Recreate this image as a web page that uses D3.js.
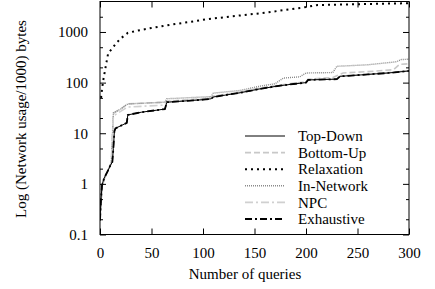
<!DOCTYPE html>
<html><head><meta charset="utf-8">
<script src="https://cdn.jsdelivr.net/npm/d3@7"></script>
<style>
html,body{margin:0;padding:0;background:#fff;}
</style></head>
<body><svg id="c" width="435" height="289"></svg>
<script>
// ---- data ----
const seriesNames = ["Top-Down","Bottom-Up","Relaxation","In-Network","NPC","Exhaustive"];
const xTicks = [0,50,100,150,200,250,300];
const yTicks = [0.1,1,10,100,1000];
const yMinorTicks = [0.2,0.5,2,5,20,50,200,500,2000];

const topDownQ = [0,1,2,4,7,10,12,13,14,15,20,26,27,40,63,65,80,100,108,110,136,155,175,190,200,202,230,233,260,280,300];
const topDownV = [0.19,0.5,0.95,1.3,1.7,2.3,2.7,5,11,12.5,14,16,23,26,30,41,43,46,48,52,63,75,87,95,100,113,117,133,145,155,170];

const bottomUpQ = [0,2,5,8,11,12,13,20,27,63,65,80,100,110,136,155,175,200,202,226,236,260,285,291,300];
const bottomUpV = [0.2,0.9,1.4,1.9,2.6,8,25,30,38,41,43,45,48,54,65,78,90,104,117,126,155,165,180,230,235];

const relaxQ = [1,2,3,5,6.5,8,11,16,21,27,37,50,70,92,102,136,160,184,200,210,240,270,300];
const relaxV = [50,75,107,180,265,385,450,610,770,960,1070,1200,1410,1630,1770,2120,2400,2800,3100,3390,3500,3600,3700];

const inNetQ = [0,2,5,8,11,12,13,20,27,63,65,100,108,110,136,155,170,178,194,200,226,230,260,288,292,300];
const inNetV = [0.2,0.9,1.4,1.9,2.6,8,25,30,38,41,48,52,53,62,70,85,95,123,130,155,158,210,225,258,285,290];

const npcQ = [0,2,5,8,11,12,13,20,27,40,63,65,100,110,136,155,175,200,202,230,233,260,280,300];
const npcV = [0.2,0.9,1.4,1.9,2.6,8,22,27,33,34,36,42,47,53,64,76,88,102,115,119,135,147,158,172];

const exhQ = [0,1,2,4,7,10,12,13,14,15,20,26,27,40,63,65,80,100,108,110,136,155,175,190,200,202,230,233,260,280,300];
const exhV = [0.19,0.5,0.95,1.3,1.7,2.3,2.7,5,11,12.5,14,16,23,26,30,41,43,46,48,52,63,75,87,95,100,113,117,133,145,155,170];

// ---- chart ----
const svg = d3.select("#c");
const L=100, R=409, T=1.5, B=234.5;
const x = d3.scaleLinear().domain([0,300]).range([L,R]);
const y = d3.scaleLog().domain([0.1,4000]).range([B,T]);

const styles = [
  {color:"#000", width:1, dash:null},
  {color:"#c8c8c8", width:1.6, dash:"6,3"},
  {color:"#000", width:2, dash:"2,4"},
  {color:"#8a8a8a", width:1.4, dash:"1,1"},
  {color:"#d0d0d0", width:1.6, dash:"8,3,2,3"},
  {color:"#000", width:1.8, dash:"7,3,2,3"}
];
const data = [
  d3.zip(topDownQ, topDownV),
  d3.zip(bottomUpQ, bottomUpV),
  d3.zip(relaxQ, relaxV),
  d3.zip(inNetQ, inNetV),
  d3.zip(npcQ, npcV),
  d3.zip(exhQ, exhV)
];

const fs = "15px";
const ff = "'Liberation Serif','DejaVu Serif','Times New Roman',serif";
const line = d3.line().x(d=>x(d[0])).y(d=>y(d[1]));
svg.append("clipPath").attr("id","pc").append("rect")
  .attr("x",L).attr("y",T).attr("width",R-L).attr("height",B-T);
const g = svg.append("g").attr("clip-path","url(#pc)");
[1,3,4,2,0,5].forEach(i=>{
  g.append("path").datum(data[i]).attr("d",line)
   .attr("fill","none").attr("stroke",styles[i].color)
   .attr("stroke-width",styles[i].width)
   .attr("stroke-dasharray",styles[i].dash);
});

// axes (ticks inward, mirrored)
const axB = d3.axisBottom(x).tickValues(xTicks).tickSize(-6).tickPadding(13);
svg.append("g").attr("transform",`translate(0,${B})`).call(axB);
const axT = d3.axisTop(x).tickValues(xTicks).tickSize(-6).tickFormat("");
svg.append("g").attr("transform",`translate(0,${T})`).call(axT);
const axL = d3.axisLeft(y).tickValues(yTicks).tickSize(-6).tickPadding(11).tickFormat(d3.format("~g"));
const gL = svg.append("g").attr("transform",`translate(${L},0)`).call(axL);
svg.append("g").attr("transform",`translate(${L},0)`)
  .call(d3.axisLeft(y).tickValues(yMinorTicks).tickSize(-3).tickFormat(""));
svg.append("g").attr("transform",`translate(${R},0)`)
  .call(d3.axisRight(y).tickValues(yTicks).tickSize(-6).tickFormat(""));
svg.append("g").attr("transform",`translate(${R},0)`)
  .call(d3.axisRight(y).tickValues(yMinorTicks).tickSize(-3).tickFormat(""));
svg.selectAll(".domain").remove();
svg.selectAll("g").attr("font-family",ff);
svg.selectAll(".tick line").attr("stroke","#000").attr("stroke-width",1);
svg.selectAll(".tick text").attr("font-family",ff).attr("font-size",fs).attr("fill","#000");
gL.selectAll(".tick text").attr("dx","-1");

svg.append("rect").attr("x",L).attr("y",T).attr("width",R-L).attr("height",B-T)
  .attr("fill","none").attr("stroke","#000").attr("stroke-width",1);

// titles
svg.append("text").attr("x",245).attr("y",279).attr("text-anchor","middle")
  .attr("font-family",ff).attr("font-size",fs).text("Number of queries");
svg.append("text").attr("transform","translate(26,119) rotate(-90)").attr("text-anchor","middle")
  .attr("font-family",ff).attr("font-size",fs).text("Log (Network usage/1000) bytes");

// legend
const lg = svg.append("g");
seriesNames.forEach((n,i)=>{
  const yy = 136 + i*16.6;
  lg.append("line").attr("x1",245).attr("x2",285).attr("y1",yy).attr("y2",yy)
    .attr("stroke",styles[i].color).attr("stroke-width",styles[i].width)
    .attr("stroke-dasharray",styles[i].dash);
  lg.append("text").attr("x",298).attr("y",yy).attr("dy","0.35em")
    .attr("font-family",ff).attr("font-size",fs).text(n);
});
</script></body></html>
